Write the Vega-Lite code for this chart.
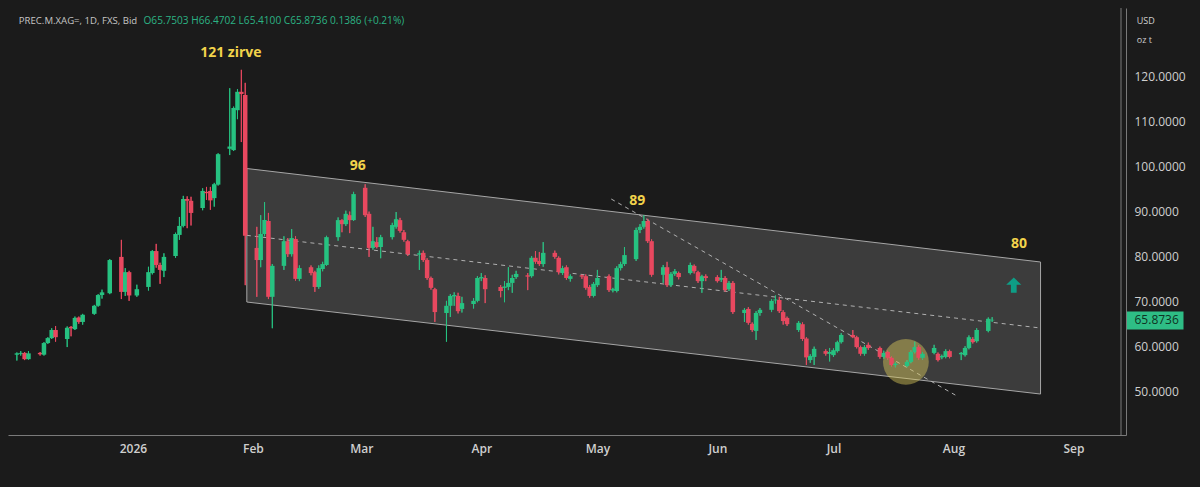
{
  "$schema": "https://vega.github.io/schema/vega-lite/v6.json",
  "width": 1118,
  "height": 427,
  "autosize": {"type": "none"},
  "padding": {"left": 8, "top": 8, "right": 74, "bottom": 52},
  "background": "#1b1b1b",
  "config": {"view": {"stroke": null}, "font": "Open Sans"},
  "datasets": {
    "ohlc": [
      {"d":"2025-12-02","o":58.1,"h":58.6,"l":56.8,"c":58.4},
      {"d":"2025-12-03","o":58.3,"h":58.9,"l":57.9,"c":58.5},
      {"d":"2025-12-04","o":58.5,"h":58.7,"l":56.9,"c":57.1},
      {"d":"2025-12-05","o":57.1,"h":58.9,"l":57.0,"c":58.4},
      {"d":"2025-12-08","o":58.5,"h":58.7,"l":57.9,"c":58.2},
      {"d":"2025-12-09","o":58.1,"h":60.9,"l":57.9,"c":60.7},
      {"d":"2025-12-10","o":60.7,"h":62.0,"l":60.5,"c":61.8},
      {"d":"2025-12-11","o":61.8,"h":64.0,"l":61.6,"c":63.6},
      {"d":"2025-12-12","o":63.6,"h":64.5,"l":61.0,"c":62.0},
      {"d":"2025-12-15","o":61.6,"h":64.4,"l":59.8,"c":64.1},
      {"d":"2025-12-16","o":64.3,"h":64.5,"l":62.2,"c":64.0},
      {"d":"2025-12-17","o":63.8,"h":66.6,"l":63.6,"c":66.3},
      {"d":"2025-12-18","o":66.4,"h":66.6,"l":65.0,"c":65.4},
      {"d":"2025-12-19","o":65.4,"h":67.2,"l":64.8,"c":67.0},
      {"d":"2025-12-22","o":67.2,"h":69.2,"l":67.0,"c":69.0},
      {"d":"2025-12-23","o":69.0,"h":71.6,"l":68.8,"c":71.4},
      {"d":"2025-12-24","o":71.4,"h":72.6,"l":70.6,"c":72.0},
      {"d":"2025-12-26","o":71.8,"h":79.4,"l":71.6,"c":79.2},
      {"d":"2025-12-29","o":79.9,"h":83.7,"l":70.5,"c":72.1},
      {"d":"2025-12-30","o":72.1,"h":77.4,"l":71.2,"c":76.5},
      {"d":"2025-12-31","o":76.5,"h":76.8,"l":70.1,"c":71.3},
      {"d":"2026-01-02","o":71.3,"h":73.7,"l":71.0,"c":72.7},
      {"d":"2026-01-05","o":73.2,"h":77.7,"l":72.4,"c":76.5},
      {"d":"2026-01-06","o":76.3,"h":81.4,"l":76.0,"c":81.2},
      {"d":"2026-01-07","o":81.2,"h":82.8,"l":77.5,"c":78.1},
      {"d":"2026-01-08","o":78.1,"h":78.6,"l":73.9,"c":77.0},
      {"d":"2026-01-09","o":76.8,"h":80.7,"l":75.4,"c":79.9},
      {"d":"2026-01-12","o":80.1,"h":85.3,"l":79.7,"c":85.0},
      {"d":"2026-01-13","o":84.8,"h":88.8,"l":83.7,"c":86.8},
      {"d":"2026-01-14","o":86.8,"h":93.5,"l":86.5,"c":92.8},
      {"d":"2026-01-15","o":92.8,"h":93.4,"l":86.3,"c":92.4},
      {"d":"2026-01-16","o":92.4,"h":93.3,"l":86.9,"c":89.7},
      {"d":"2026-01-19","o":90.8,"h":95.2,"l":90.3,"c":94.6},
      {"d":"2026-01-20","o":94.4,"h":95.5,"l":92.6,"c":94.1},
      {"d":"2026-01-21","o":94.6,"h":95.5,"l":90.4,"c":92.5},
      {"d":"2026-01-22","o":93.0,"h":96.4,"l":91.1,"c":96.1},
      {"d":"2026-01-23","o":96.0,"h":103.0,"l":95.8,"c":102.8},
      {"d":"2026-01-26","o":104.0,"h":117.5,"l":102.6,"c":104.5},
      {"d":"2026-01-27","o":103.7,"h":113.4,"l":103.5,"c":113.1},
      {"d":"2026-01-28","o":112.6,"h":117.3,"l":110.6,"c":116.7},
      {"d":"2026-01-29","o":116.7,"h":121.6,"l":105.5,"c":116.2},
      {"d":"2026-01-30","o":116.0,"h":118.7,"l":73.6,"c":84.6},
      {"d":"2026-02-02","o":81.9,"h":86.6,"l":71.0,"c":79.2},
      {"d":"2026-02-03","o":79.2,"h":89.2,"l":77.6,"c":85.0},
      {"d":"2026-02-04","o":85.0,"h":92.1,"l":84.5,"c":88.1},
      {"d":"2026-02-05","o":87.9,"h":89.7,"l":70.5,"c":71.0},
      {"d":"2026-02-06","o":71.0,"h":78.3,"l":64.0,"c":77.9},
      {"d":"2026-02-09","o":77.9,"h":84.5,"l":77.0,"c":83.4},
      {"d":"2026-02-10","o":83.4,"h":84.1,"l":79.9,"c":80.5},
      {"d":"2026-02-11","o":80.5,"h":86.1,"l":80.0,"c":84.1},
      {"d":"2026-02-12","o":83.9,"h":84.5,"l":74.6,"c":75.0},
      {"d":"2026-02-13","o":75.0,"h":78.0,"l":74.5,"c":77.4},
      {"d":"2026-02-16","o":77.6,"h":78.0,"l":75.8,"c":76.3},
      {"d":"2026-02-17","o":76.5,"h":76.8,"l":72.1,"c":73.2},
      {"d":"2026-02-18","o":73.2,"h":78.0,"l":72.8,"c":77.4},
      {"d":"2026-02-19","o":77.2,"h":78.8,"l":76.7,"c":78.3},
      {"d":"2026-02-20","o":78.1,"h":84.6,"l":77.9,"c":84.3},
      {"d":"2026-02-23","o":84.3,"h":88.7,"l":83.5,"c":88.1},
      {"d":"2026-02-24","o":88.1,"h":88.3,"l":85.4,"c":87.2},
      {"d":"2026-02-25","o":87.2,"h":90.2,"l":86.8,"c":89.5},
      {"d":"2026-02-26","o":89.2,"h":90.0,"l":85.2,"c":88.1},
      {"d":"2026-02-27","o":88.1,"h":94.4,"l":87.9,"c":93.9},
      {"d":"2026-03-02","o":95.3,"h":96.1,"l":88.8,"c":89.2},
      {"d":"2026-03-03","o":89.5,"h":90.0,"l":79.9,"c":81.9},
      {"d":"2026-03-04","o":81.9,"h":86.6,"l":81.5,"c":83.4},
      {"d":"2026-03-05","o":83.2,"h":84.3,"l":81.8,"c":82.1},
      {"d":"2026-03-06","o":82.1,"h":84.8,"l":79.6,"c":84.3},
      {"d":"2026-03-09","o":84.3,"h":87.5,"l":83.8,"c":87.0},
      {"d":"2026-03-10","o":86.6,"h":89.9,"l":86.2,"c":88.3},
      {"d":"2026-03-11","o":88.1,"h":88.6,"l":85.3,"c":85.7},
      {"d":"2026-03-12","o":85.4,"h":85.9,"l":83.3,"c":83.7},
      {"d":"2026-03-13","o":83.4,"h":83.7,"l":80.1,"c":80.5},
      {"d":"2026-03-16","o":80.4,"h":81.3,"l":77.0,"c":80.7},
      {"d":"2026-03-17","o":80.8,"h":81.3,"l":78.8,"c":79.2},
      {"d":"2026-03-18","o":79.2,"h":79.6,"l":74.8,"c":75.2},
      {"d":"2026-03-19","o":75.2,"h":75.5,"l":72.6,"c":73.0},
      {"d":"2026-03-20","o":72.7,"h":73.0,"l":65.4,"c":67.6},
      {"d":"2026-03-23","o":67.4,"h":70.1,"l":61.0,"c":69.0},
      {"d":"2026-03-24","o":69.0,"h":71.6,"l":66.5,"c":71.2},
      {"d":"2026-03-25","o":71.1,"h":72.0,"l":69.0,"c":71.4},
      {"d":"2026-03-26","o":71.2,"h":71.9,"l":67.3,"c":67.8},
      {"d":"2026-03-27","o":68.3,"h":71.0,"l":67.5,"c":69.6},
      {"d":"2026-03-30","o":69.4,"h":70.7,"l":68.4,"c":70.1},
      {"d":"2026-03-31","o":70.1,"h":75.6,"l":69.8,"c":75.2},
      {"d":"2026-04-01","o":75.1,"h":76.3,"l":74.5,"c":75.4},
      {"d":"2026-04-02","o":75.2,"h":75.8,"l":69.6,"c":72.7},
      {"d":"2026-04-06","o":73.2,"h":73.6,"l":70.9,"c":72.3},
      {"d":"2026-04-07","o":73.0,"h":74.5,"l":69.8,"c":73.3},
      {"d":"2026-04-08","o":73.2,"h":77.6,"l":72.5,"c":74.1},
      {"d":"2026-04-09","o":74.1,"h":75.9,"l":71.9,"c":75.2},
      {"d":"2026-04-10","o":75.4,"h":76.8,"l":75.0,"c":76.1},
      {"d":"2026-04-13","o":75.8,"h":76.3,"l":72.5,"c":75.5},
      {"d":"2026-04-14","o":75.6,"h":80.1,"l":75.3,"c":79.7},
      {"d":"2026-04-15","o":79.7,"h":81.2,"l":78.4,"c":78.8},
      {"d":"2026-04-16","o":79.0,"h":81.0,"l":77.9,"c":78.3},
      {"d":"2026-04-17","o":78.3,"h":83.2,"l":77.7,"c":80.8},
      {"d":"2026-04-20","o":80.8,"h":81.3,"l":79.5,"c":79.9},
      {"d":"2026-04-21","o":79.7,"h":80.0,"l":76.0,"c":76.5},
      {"d":"2026-04-22","o":76.3,"h":77.9,"l":75.9,"c":77.4},
      {"d":"2026-04-23","o":77.6,"h":78.0,"l":74.8,"c":75.2},
      {"d":"2026-04-24","o":75.0,"h":76.0,"l":74.4,"c":75.6},
      {"d":"2026-04-27","o":75.8,"h":76.0,"l":75.0,"c":75.5},
      {"d":"2026-04-28","o":75.6,"h":76.0,"l":72.6,"c":73.0},
      {"d":"2026-04-29","o":73.2,"h":73.6,"l":70.8,"c":71.2},
      {"d":"2026-04-30","o":71.2,"h":74.3,"l":70.9,"c":73.9},
      {"d":"2026-05-01","o":73.6,"h":77.0,"l":73.2,"c":75.2},
      {"d":"2026-05-04","o":75.6,"h":76.0,"l":72.1,"c":72.5},
      {"d":"2026-05-05","o":72.4,"h":73.0,"l":72.0,"c":72.7},
      {"d":"2026-05-06","o":72.3,"h":77.8,"l":72.0,"c":77.4},
      {"d":"2026-05-07","o":77.4,"h":78.8,"l":76.9,"c":78.3},
      {"d":"2026-05-08","o":78.3,"h":82.1,"l":77.9,"c":80.3},
      {"d":"2026-05-11","o":79.4,"h":86.4,"l":79.0,"c":85.9},
      {"d":"2026-05-12","o":85.9,"h":87.2,"l":85.2,"c":86.6},
      {"d":"2026-05-13","o":86.6,"h":89.2,"l":86.2,"c":87.9},
      {"d":"2026-05-14","o":87.9,"h":88.4,"l":83.0,"c":83.4},
      {"d":"2026-05-15","o":83.4,"h":83.8,"l":75.5,"c":75.9},
      {"d":"2026-05-18","o":75.9,"h":78.1,"l":74.1,"c":77.6},
      {"d":"2026-05-19","o":77.6,"h":78.8,"l":73.2,"c":73.6},
      {"d":"2026-05-20","o":73.6,"h":76.5,"l":73.2,"c":76.1},
      {"d":"2026-05-21","o":76.1,"h":77.2,"l":75.7,"c":76.7},
      {"d":"2026-05-22","o":76.3,"h":76.6,"l":74.9,"c":75.4},
      {"d":"2026-05-25","o":76.3,"h":78.6,"l":76.0,"c":78.1},
      {"d":"2026-05-26","o":77.9,"h":78.2,"l":76.2,"c":76.7},
      {"d":"2026-05-27","o":76.5,"h":76.8,"l":74.1,"c":74.5},
      {"d":"2026-05-28","o":74.5,"h":75.9,"l":71.9,"c":75.6},
      {"d":"2026-05-29","o":75.6,"h":76.0,"l":74.5,"c":75.2},
      {"d":"2026-06-01","o":75.4,"h":75.8,"l":74.2,"c":74.5},
      {"d":"2026-06-02","o":74.8,"h":77.0,"l":74.3,"c":75.2},
      {"d":"2026-06-03","o":75.2,"h":75.6,"l":72.1,"c":72.5},
      {"d":"2026-06-04","o":72.7,"h":74.5,"l":72.3,"c":74.1},
      {"d":"2026-06-05","o":74.1,"h":74.5,"l":67.2,"c":67.6},
      {"d":"2026-06-08","o":67.4,"h":68.5,"l":65.4,"c":68.1},
      {"d":"2026-06-09","o":68.3,"h":68.7,"l":64.8,"c":65.2},
      {"d":"2026-06-10","o":65.0,"h":65.3,"l":63.2,"c":63.6},
      {"d":"2026-06-11","o":63.4,"h":67.8,"l":61.4,"c":67.4},
      {"d":"2026-06-12","o":67.4,"h":68.5,"l":66.8,"c":68.1},
      {"d":"2026-06-15","o":68.1,"h":70.5,"l":67.6,"c":70.1},
      {"d":"2026-06-16","o":70.2,"h":71.3,"l":69.5,"c":70.4},
      {"d":"2026-06-17","o":70.3,"h":71.0,"l":67.4,"c":67.8},
      {"d":"2026-06-18","o":67.6,"h":68.0,"l":64.8,"c":65.6},
      {"d":"2026-06-19","o":66.3,"h":66.6,"l":64.5,"c":64.9},
      {"d":"2026-06-22","o":63.6,"h":65.6,"l":63.2,"c":65.2},
      {"d":"2026-06-23","o":64.9,"h":65.3,"l":61.2,"c":61.6},
      {"d":"2026-06-24","o":61.7,"h":62.0,"l":55.8,"c":57.5},
      {"d":"2026-06-25","o":56.9,"h":58.2,"l":56.3,"c":57.8},
      {"d":"2026-06-26","o":57.6,"h":59.9,"l":55.8,"c":59.4},
      {"d":"2026-06-29","o":58.9,"h":59.3,"l":57.9,"c":58.3},
      {"d":"2026-06-30","o":58.3,"h":59.6,"l":56.6,"c":58.7},
      {"d":"2026-07-01","o":58.0,"h":59.5,"l":57.6,"c":59.1},
      {"d":"2026-07-02","o":58.9,"h":61.2,"l":58.6,"c":60.9},
      {"d":"2026-07-03","o":60.9,"h":62.9,"l":60.6,"c":62.5},
      {"d":"2026-07-06","o":62.5,"h":63.6,"l":61.8,"c":62.0},
      {"d":"2026-07-07","o":62.0,"h":62.3,"l":59.5,"c":59.8},
      {"d":"2026-07-08","o":59.8,"h":60.1,"l":57.9,"c":58.3},
      {"d":"2026-07-09","o":58.3,"h":60.2,"l":57.9,"c":59.8},
      {"d":"2026-07-10","o":60.3,"h":60.8,"l":59.2,"c":59.6},
      {"d":"2026-07-13","o":59.6,"h":59.9,"l":57.2,"c":57.6},
      {"d":"2026-07-14","o":57.6,"h":59.0,"l":57.2,"c":58.5},
      {"d":"2026-07-15","o":58.7,"h":59.0,"l":57.0,"c":57.4},
      {"d":"2026-07-16","o":57.4,"h":57.7,"l":55.5,"c":55.8},
      {"d":"2026-07-17","o":55.8,"h":56.4,"l":55.3,"c":56.1},
      {"d":"2026-07-20","o":55.6,"h":56.9,"l":55.3,"c":56.5},
      {"d":"2026-07-21","o":56.5,"h":59.1,"l":56.2,"c":58.7},
      {"d":"2026-07-22","o":58.7,"h":61.0,"l":58.4,"c":59.8},
      {"d":"2026-07-23","o":59.8,"h":60.2,"l":57.0,"c":57.4},
      {"d":"2026-07-24","o":57.4,"h":58.7,"l":57.0,"c":58.3},
      {"d":"2026-07-27","o":58.5,"h":60.3,"l":58.2,"c":59.6},
      {"d":"2026-07-28","o":58.3,"h":58.6,"l":56.6,"c":56.9},
      {"d":"2026-07-29","o":57.5,"h":58.1,"l":57.1,"c":57.8},
      {"d":"2026-07-30","o":57.6,"h":59.3,"l":57.3,"c":58.9},
      {"d":"2026-07-31","o":58.9,"h":59.2,"l":57.3,"c":57.6},
      {"d":"2026-08-03","o":58.2,"h":58.7,"l":56.9,"c":58.5},
      {"d":"2026-08-04","o":58.0,"h":60.0,"l":57.7,"c":59.6},
      {"d":"2026-08-05","o":59.6,"h":62.4,"l":59.3,"c":62.0},
      {"d":"2026-08-06","o":61.6,"h":62.0,"l":60.6,"c":60.9},
      {"d":"2026-08-07","o":61.1,"h":64.0,"l":60.8,"c":63.6},
      {"d":"2026-08-10","o":63.4,"h":66.4,"l":63.1,"c":66.1},
      {"d":"2026-08-11","o":65.7503,"h":66.4702,"l":65.41,"c":65.8736}
    ],
    "channel": [
      {"d":"2026-01-30T10:00:00Z","hi":99.6,"lo":69.84},
      {"d":"2026-08-23T12:00:00Z","hi":78.76,"lo":49.33}
    ],
    "lines": [
      {"line":"mid","d":"2026-01-30T10:00:00Z","v":84.7},
      {"line":"mid","d":"2026-08-23T12:00:00Z","v":64.05},
      {"line":"trend","d":"2026-05-04T14:00:00Z","v":92.8},
      {"line":"trend","d":"2026-08-02T07:00:00Z","v":48.7}
    ],
    "notes": [
      {"d":"2026-01-26T07:00:00Z","v":125.35,"t":"121 zirve"},
      {"d":"2026-02-28T02:00:00Z","v":100.16,"t":"96"},
      {"d":"2026-05-11T07:00:00Z","v":92.36,"t":"89"},
      {"d":"2026-08-17T22:00:00Z","v":82.77,"t":"80"}
    ],
    "unit": [
      {"d":"2026-09-17T09:00:00Z","v":132.48,"t":"USD"},
      {"d":"2026-09-17T09:00:00Z","v":128.25,"t":"oz t"}
    ],
    "edge": [
      {"d":"2026-09-13T07:00:00Z"}
    ]
  },
  "layer": [
    {
      "data": {"name": "ohlc"},
      "mark": {"type": "rule", "strokeWidth": 1},
      "encoding": {
        "x": {"field": "d", "type": "temporal", "scale": {"type": "utc", "domain": [{"year":2025,"month":12,"date":1,"utc":true},{"year":2026,"month":9,"date":13,"hours":7,"utc":true}]},
          "axis": {"values": [{"year":2026,"month":1,"date":1,"utc":true},{"year":2026,"month":2,"date":1,"utc":true},{"year":2026,"month":3,"date":1,"utc":true},{"year":2026,"month":4,"date":1,"utc":true},{"year":2026,"month":5,"date":1,"utc":true},{"year":2026,"month":6,"date":1,"utc":true},{"year":2026,"month":7,"date":1,"utc":true},{"year":2026,"month":8,"date":1,"utc":true},{"year":2026,"month":9,"date":1,"utc":true}],
            "labelExpr": "utcmonth(datum.value) == 0 ? utcFormat(datum.value, '%Y') : utcFormat(datum.value, '%b')",
            "title": null, "ticks": false, "grid": false, "domainColor": "#7a7a7a", "labelColor": "#cfcfcf", "labelFontSize": 12, "labelFontWeight": 600, "labelPadding": 8, "labelFlush": false, "labelOverlap": false}},
        "y": {"field": "l", "type": "quantitative", "scale": {"domain": [40.2, 135.38], "nice": false, "zero": false},
          "axis": {"orient": "right", "values": [50, 60, 70, 80, 90, 100, 110, 120, 65.8736], "format": ".4f", "grid": false,
            "domain": true, "domainColor": "#7a7a7a", "domainWidth": 1,
            "ticks": true, "tickSize": 57,
            "tickWidth": {"condition": {"test": "abs(datum.value - 65.8736) < 0.001", "value": 18}, "value": 0},
            "tickColor": {"condition": {"test": "abs(datum.value - 65.8736) < 0.001", "value": "#2ebd85"}, "value": "transparent"},
            "labelColor": {"condition": {"test": "abs(datum.value - 65.8736) < 0.001", "value": "#0f3323"}, "value": "#cfcfcf"},
            "labelPadding": -49, "labelFontSize": 12, "labelOverlap": false, "title": null}},
        "y2": {"field": "h"},
        "color": {"condition": {"test": "datum.c >= datum.o", "value": "#26c281"}, "value": "#e8485f"}
      }
    },
    {
      "data": {"name": "edge"},
      "mark": {"type": "rule", "stroke": "#7a7a7a", "strokeWidth": 1, "clip": false},
      "encoding": {
        "x": {"field": "d", "type": "temporal", "scale": {"type": "utc", "domain": [{"year":2025,"month":12,"date":1,"utc":true},{"year":2026,"month":9,"date":13,"hours":7,"utc":true}]}}
      }
    },
    {
      "data": {"name": "channel"},
      "mark": {"type": "area", "fill": "#8c8c8c", "fillOpacity": 0.3, "stroke": "#a6a6a6", "strokeWidth": 1},
      "encoding": {
        "x": {"field": "d", "type": "temporal", "scale": {"type": "utc", "domain": [{"year":2025,"month":12,"date":1,"utc":true},{"year":2026,"month":9,"date":13,"hours":7,"utc":true}]}},
        "y": {"field": "hi", "type": "quantitative", "scale": {"domain": [40.2, 135.38], "nice": false, "zero": false}},
        "y2": {"field": "lo"}
      }
    },
    {
      "data": {"name": "lines"},
      "mark": {"type": "line", "stroke": "#b0b0b0", "strokeWidth": 1, "strokeDash": [4, 4]},
      "encoding": {
        "x": {"field": "d", "type": "temporal", "scale": {"type": "utc", "domain": [{"year":2025,"month":12,"date":1,"utc":true},{"year":2026,"month":9,"date":13,"hours":7,"utc":true}]}},
        "y": {"field": "v", "type": "quantitative", "scale": {"domain": [40.2, 135.38], "nice": false, "zero": false}},
        "detail": {"field": "line"}
      }
    },
    {
      "data": {"values": [{"d": "2026-07-19T17:00:00Z", "v": 56.5}]},
      "mark": {"type": "point", "shape": "circle", "filled": true, "size": 2100, "color": "#dcc95a", "opacity": 0.45},
      "encoding": {
        "x": {"field": "d", "type": "temporal", "scale": {"type": "utc", "domain": [{"year":2025,"month":12,"date":1,"utc":true},{"year":2026,"month":9,"date":13,"hours":7,"utc":true}]}},
        "y": {"field": "v", "type": "quantitative", "scale": {"domain": [40.2, 135.38], "nice": false, "zero": false}}
      }
    },
    {
      "data": {"name": "ohlc"},
      "mark": {"type": "rule", "strokeWidth": 1},
      "encoding": {
        "x": {"field": "d", "type": "temporal", "scale": {"type": "utc", "domain": [{"year":2025,"month":12,"date":1,"utc":true},{"year":2026,"month":9,"date":13,"hours":7,"utc":true}]}},
        "y": {"field": "l", "type": "quantitative", "scale": {"domain": [40.2, 135.38], "nice": false, "zero": false}},
        "y2": {"field": "h"},
        "color": {"condition": {"test": "datum.c >= datum.o", "value": "#26c281"}, "value": "#e8485f"}
      }
    },
    {
      "data": {"name": "ohlc"},
      "mark": {"type": "bar", "size": 4.5},
      "encoding": {
        "x": {"field": "d", "type": "temporal", "scale": {"type": "utc", "domain": [{"year":2025,"month":12,"date":1,"utc":true},{"year":2026,"month":9,"date":13,"hours":7,"utc":true}]}},
        "y": {"field": "o", "type": "quantitative", "scale": {"domain": [40.2, 135.38], "nice": false, "zero": false}},
        "y2": {"field": "c"},
        "color": {"condition": {"test": "datum.c >= datum.o", "value": "#26c281"}, "value": "#e8485f"}
      }
    },
    {
      "data": {"name": "notes"},
      "mark": {"type": "text", "color": "#f2d34b", "fontSize": 14, "fontWeight": "bold", "align": "center", "baseline": "middle"},
      "encoding": {
        "x": {"field": "d", "type": "temporal", "scale": {"type": "utc", "domain": [{"year":2025,"month":12,"date":1,"utc":true},{"year":2026,"month":9,"date":13,"hours":7,"utc":true}]}},
        "y": {"field": "v", "type": "quantitative", "scale": {"domain": [40.2, 135.38], "nice": false, "zero": false}},
        "text": {"field": "t"}
      }
    },
    {
      "data": {"values": [{"d": "2026-08-16T14:00:00Z", "v": 73.6}]},
      "mark": {"type": "point", "shape": "M0,-1L1,-0.05L0.38,-0.05L0.38,1L-0.38,1L-0.38,-0.05L-1,-0.05Z", "filled": true, "size": 230, "color": "#0e9e86", "opacity": 1},
      "encoding": {
        "x": {"field": "d", "type": "temporal", "scale": {"type": "utc", "domain": [{"year":2025,"month":12,"date":1,"utc":true},{"year":2026,"month":9,"date":13,"hours":7,"utc":true}]}},
        "y": {"field": "v", "type": "quantitative", "scale": {"domain": [40.2, 135.38], "nice": false, "zero": false}}
      }
    },
    {
      "data": {"values": [{"d": "2025-12-02T12:00:00Z", "v": 132.5, "t": "PREC.M.XAG=, 1D, FXS, Bid"}]},
      "mark": {"type": "text", "color": "#c5c5c5", "fontSize": 9.6, "align": "left", "baseline": "middle"},
      "encoding": {
        "x": {"field": "d", "type": "temporal", "scale": {"type": "utc", "domain": [{"year":2025,"month":12,"date":1,"utc":true},{"year":2026,"month":9,"date":13,"hours":7,"utc":true}]}},
        "y": {"field": "v", "type": "quantitative", "scale": {"domain": [40.2, 135.38], "nice": false, "zero": false}},
        "text": {"field": "t"}
      }
    },
    {
      "data": {"values": [{"d": "2026-03-12T02:00:00Z", "v": 132.5, "t": "O65.7503  H66.4702  L65.4100  C65.8736  0.1386 (+0.21%)"}]},
      "mark": {"type": "text", "color": "#2bb384", "fontSize": 10.1, "align": "right", "baseline": "middle"},
      "encoding": {
        "x": {"field": "d", "type": "temporal", "scale": {"type": "utc", "domain": [{"year":2025,"month":12,"date":1,"utc":true},{"year":2026,"month":9,"date":13,"hours":7,"utc":true}]}},
        "y": {"field": "v", "type": "quantitative", "scale": {"domain": [40.2, 135.38], "nice": false, "zero": false}},
        "text": {"field": "t"}
      }
    },
    {
      "data": {"name": "unit"},
      "mark": {"type": "text", "color": "#cfcfcf", "fontSize": 9, "align": "left", "baseline": "middle", "clip": false},
      "encoding": {
        "x": {"field": "d", "type": "temporal", "scale": {"type": "utc", "domain": [{"year":2025,"month":12,"date":1,"utc":true},{"year":2026,"month":9,"date":13,"hours":7,"utc":true}]}},
        "y": {"field": "v", "type": "quantitative", "scale": {"domain": [40.2, 135.38], "nice": false, "zero": false}},
        "text": {"field": "t"}
      }
    }
  ]
}
